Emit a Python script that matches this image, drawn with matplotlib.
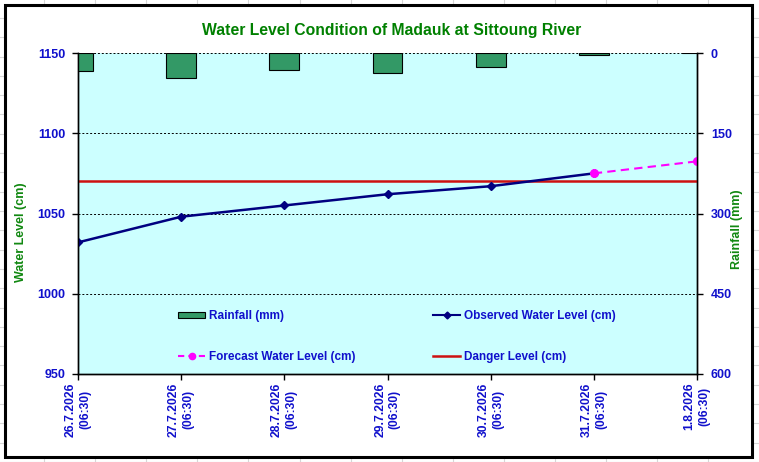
import matplotlib
matplotlib.use('Agg')
import matplotlib.pyplot as plt
import numpy as np
from matplotlib.lines import Line2D
from matplotlib.patches import Rectangle, Patch

# ---- data ----
dates = ['26.7.2026', '27.7.2026', '28.7.2026', '29.7.2026', '30.7.2026', '31.7.2026', '1.8.2026']
times = ['(06:30)'] * 7
rainfall = [34, 47, 32, 38, 27, 4, 0]
observed = [1032, 1048, 1055, 1062, 1067, 1075]
forecast = [1075, 1082.5]          # 31.7 and 1.8
danger = [1070] * 7
left_ticks = [950, 1000, 1050, 1100, 1150]
right_ticks = [0, 150, 300, 450, 600]

plt.rcParams['font.family'] = ['Liberation Sans', 'DejaVu Sans']
plt.rcParams['font.weight'] = 'bold'

W, H = 759, 462
fig = plt.figure(figsize=(W / 100, H / 100), dpi=100)

# spreadsheet gridlines behind the chart
for gx in np.arange(44, W, 51.1):
    fig.add_artist(Line2D([gx / W, gx / W], [0, 1], color='#d6d6d6', lw=0.8, zorder=-3))
for gy in np.arange(18, H, 19.3):
    fig.add_artist(Line2D([0, 1], [1 - gy / H, 1 - gy / H], color='#d6d6d6', lw=0.8, zorder=-3))
fig.add_artist(Rectangle((5 / W, 1 - 457 / H), (752 - 5) / W, (457 - 5) / H,
                         facecolor='white', edgecolor='black', lw=2.2, zorder=-1))

blue = '#1010CC'
green = '#118811'

ax = fig.add_axes([78 / W, 1 - 374 / H, (697 - 78) / W, (374 - 53) / H])
ax.set_facecolor('#CCFFFF')
x = np.arange(len(dates))
ax.set_xlim(0, len(dates) - 1)
ax.set_ylim(950, 1150)
ax.set_yticks(left_ticks)
ax.yaxis.grid(True, color='black', ls=(0, (2, 2)), lw=0.7)
ax.set_axisbelow(True)

ax2 = ax.twinx()
ax2.set_ylim(600, 0)
ax2.set_yticks(right_ticks)
ax2.bar(x, rainfall, width=0.29, color='#339966', edgecolor='black', lw=0.8, zorder=2)

ax.plot(x, danger, color='#CC1111', lw=1.8, zorder=3)
ax.plot(x[:len(observed)], observed, color='#000080', lw=1.8, marker='D', ms=4, zorder=4)
ax.plot(x[5:], forecast, color='#FF00FF', lw=1.5, ls=(0, (4, 2.5)), marker='o', ms=5.5, zorder=5)

for a in (ax, ax2):
    a.spines['top'].set_visible(False)
    for s in ('left', 'right', 'bottom'):
        a.spines[s].set_linewidth(1.0)

ax.tick_params(axis='y', direction='out', length=4, width=1, pad=5, labelsize=9, labelcolor=blue)
ax2.tick_params(axis='y', direction='out', length=4, width=1, pad=6, labelsize=9, labelcolor=blue)
ax.set_xticks(x)
ax.set_xticklabels([f'{d}\n{t}' for d, t in zip(dates, times)], rotation=90,
                   fontsize=8.7, color=blue, linespacing=1.3)
ax.tick_params(axis='x', direction='out', length=4, width=1, pad=2)

fig.text(392 / W, 1 - 30 / H, 'Water Level Condition of Madauk at Sittoung River',
         ha='center', va='center', fontsize=11.3, color='#008000', fontweight='bold')
fig.text(21 / W, 1 - 232 / H, 'Water Level (cm)', rotation=90, ha='center', va='center',
         fontsize=9, color=green, fontweight='bold')
fig.text(737 / W, 1 - 229 / H, 'Rainfall (mm)', rotation=90, ha='center', va='center',
         fontsize=9, color=green, fontweight='bold')

# legends
h_rain = Patch(facecolor='#339966', edgecolor='black', lw=0.8)
h_fc = Line2D([], [], color='#FF00FF', lw=1.5, ls=(0, (3, 2)), marker='o', ms=4.5)
h_obs = Line2D([], [], color='#000080', lw=1.5, marker='D', ms=3.5)
h_dg = Line2D([], [], color='#CC1111', lw=1.8)
common = dict(frameon=False, loc='upper left', borderaxespad=0, borderpad=0,
              handlelength=2.3, handletextpad=0.3, labelspacing=2.45, handleheight=0.4,
              prop={'size': 8.5, 'weight': 'bold'}, labelcolor=blue)
legA = ax2.legend([h_rain, h_fc], ['Rainfall (mm)', 'Forecast Water Level (cm)'],
                  bbox_to_anchor=(178 / W, 1 - 310 / H), bbox_transform=fig.transFigure, **common)
ax2.add_artist(legA)
ax2.legend([h_obs, h_dg], ['Observed Water Level (cm)', 'Danger Level (cm)'],
           bbox_to_anchor=(433 / W, 1 - 310 / H), bbox_transform=fig.transFigure, **common)

fig.savefig('out.png', dpi=100)
